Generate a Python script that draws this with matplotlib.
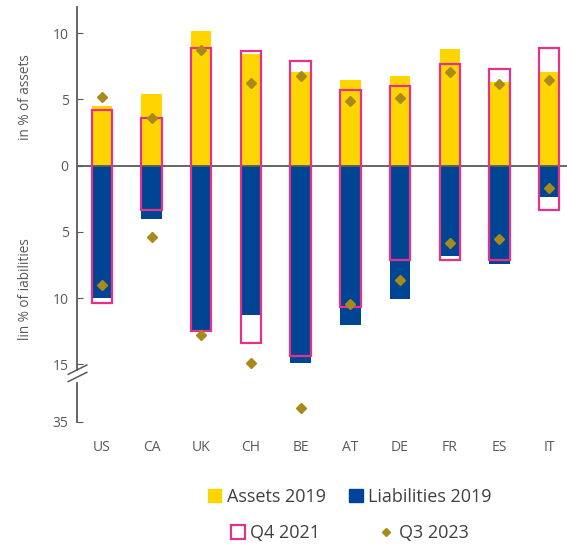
import numpy as np
import matplotlib.pyplot as plt
from matplotlib.patches import Patch
from matplotlib.lines import Line2D
from matplotlib.transforms import blended_transform_factory

plt.rcParams['font.family'] = ['Open Sans', 'DejaVu Sans']

countries = ['US', 'CA', 'UK', 'CH', 'BE', 'AT', 'DE', 'FR', 'ES', 'IT']

assets_2019 = [4.5, 5.4, 10.2, 8.4, 7.1, 6.5, 6.8, 8.8, 6.35, 7.05]
liabs_2019 = [10.0, 4.05, 12.4, 11.25, 14.9, 12.0, 10.1, 6.85, 7.45, 2.4]
assets_2021 = [4.2, 3.6, 8.85, 8.65, 7.9, 5.75, 6.05, 7.7, 7.3, 8.85]
liabs_2021 = [10.4, 3.35, 12.45, 13.35, 14.35, 10.65, 7.1, 7.1, 7.1, 3.35]
assets_2023 = [5.2, 3.6, 8.7, 6.25, 6.8, 4.85, 5.1, 7.1, 6.15, 6.45]
liabs_2023 = [9.0, 5.4, 12.8, 14.9, 30.2, 10.45, 8.6, 5.8, 5.5, 1.65]

yticks = [10, 5, 0, -5, -10, -15, -35]

YELLOW = '#FFD500'
BLUE = '#004494'
PINK = '#E2328A'
GOLD = '#A88A1A'
GREY = '#595959'

BREAK = 15
SQUEEZE = 0.2163   # compression below the axis break


def to_axis(v):
    # map signed value to axis units, compressing beyond the break
    v = np.asarray(v, dtype=float)
    out = v.copy()
    deep = v < -BREAK
    out[deep] = -(BREAK + (-v[deep] - BREAK) * SQUEEZE)
    return out


x = np.arange(len(countries))
w = 0.41

fig = plt.figure(figsize=(5.67, 5.48), dpi=100)
ax = fig.add_axes([77 / 567, 0.2305, 1 - 77 / 567, 0.9867 - 0.2305])

ax.bar(x, assets_2019, w, color=YELLOW, zorder=2)
ax.bar(x, -np.array(liabs_2019), w, color=BLUE, zorder=2)
ax.axhline(0, color=GREY, lw=1.3, zorder=3)
ax.bar(x, np.array(assets_2021) + np.array(liabs_2021), w,
       bottom=-np.array(liabs_2021), fill=False, edgecolor=PINK,
       lw=1.6, zorder=4)
ax.plot(x, assets_2023, 'D', color=GOLD, ms=5.3, zorder=5)
ax.plot(x, to_axis(-np.array(liabs_2023)), 'D', color=GOLD, ms=5.3, zorder=5)

bottom = float(to_axis([-35])[0])
ax.set_xlim(-0.5, 9.36)
ax.set_ylim(bottom, 11.96)

ax.set_yticks(to_axis(yticks))
ax.set_yticklabels([str(abs(t)) for t in yticks])
ax.set_xticks(x)
ax.set_xticklabels(countries)
ax.tick_params(axis='y', direction='in', length=4, color=GREY,
               labelcolor=GREY, labelsize=10, pad=6)
ax.tick_params(axis='x', length=0, labelcolor=GREY, labelsize=10, pad=13)

for s in ['top', 'right', 'bottom']:
    ax.spines[s].set_visible(False)
ax.spines['left'].set_color(GREY)
ax.spines['left'].set_linewidth(1.3)
ax.spines['left'].set_bounds(-15.4, 11.96)

# lower piece of the axis and the break marks
tr = blended_transform_factory(ax.transAxes, ax.transData)
ax.plot([0, 0], [-16.4, bottom], color=GREY, lw=1.3, transform=tr,
        clip_on=False)
for dy in [0, 0.55]:
    ax.plot([-0.018, 0.02], [-16.3 + dy, -15.6 + dy], color=GREY, lw=1.1,
            transform=tr, clip_on=False)

fig.text(0.045, (548 - 97) / 548, 'in % of assets', rotation=90,
         ha='center', va='center', color=GREY, fontsize=9.8)
fig.text(0.045, (548 - 289) / 548, 'lin % of iabilities', rotation=90,
         ha='center', va='center', color=GREY, fontsize=9.8)

row1 = [Patch(facecolor=YELLOW, edgecolor=YELLOW),
        Patch(facecolor=BLUE, edgecolor=BLUE)]
row2 = [Patch(facecolor='white', edgecolor=PINK, lw=1.6),
        Line2D([], [], marker='D', color=GOLD, ls='none', ms=4.5)]
leg1 = fig.legend(row1, ['Assets 2019', 'Liabilities 2019'], ncol=2,
                  loc='center', bbox_to_anchor=(0.617, 0.093), frameon=False,
                  fontsize=13, handlelength=0.75, handleheight=0.75,
                  handletextpad=0.3, columnspacing=1.3, labelcolor='#404040')
leg2 = fig.legend(row2, ['Q4 2021', 'Q3 2023'], ncol=2,
                  loc='center', bbox_to_anchor=(0.617, 0.027), frameon=False,
                  fontsize=13, handlelength=0.75, handleheight=0.75,
                  handletextpad=0.3, columnspacing=3.3, labelcolor='#404040')

fig.savefig('out.png', dpi=100)
